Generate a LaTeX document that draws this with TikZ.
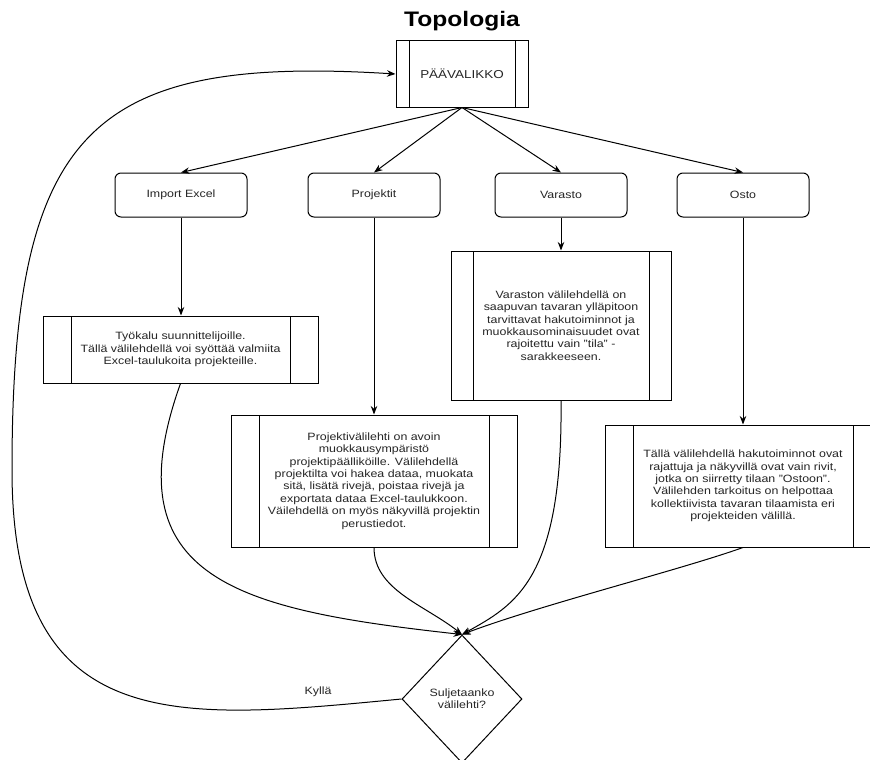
\documentclass[tikz,border=0pt]{standalone}
\usepackage{fontspec}
\setmainfont{Liberation Sans}[FakeStretch=1.17]
\usetikzlibrary{arrows.meta,shapes.geometric}
\tikzset{
  tab/.style={draw,rounded corners=6pt,minimum width=132pt,minimum height=44pt},
  proc/.style={draw,inner sep=0pt,align=center,path picture={
    \draw ([xshift=#1]path picture bounding box.north west)--([xshift=#1]path picture bounding box.south west)
      ([xshift=-#1]path picture bounding box.north east)--([xshift=-#1]path picture bounding box.south east);}},
  ask/.style={draw,diamond,aspect=0.94,minimum width=120pt,minimum height=128pt,inner sep=0pt,align=center}
}
\begin{document}
\begin{tikzpicture}[x=1pt,y=-1pt,line width=1pt,text=black!85,
  font=\fontsize{10.6}{12.4}\selectfont,>={Stealth[length=8.5pt,width=6.5pt]}]
\path[use as bounding box,fill=white] (0,0) rectangle (870,760);
\node[font=\fontsize{21}{24}\selectfont\bfseries,text=black] (title) at (462,21) {Topologia};
\node[proc=13pt,minimum width=132pt,minimum height=66pt,font=\fontsize{11.5}{13}\selectfont] (menu) at (462,74) {PÄÄVALIKKO};
\node[tab] (imp) at (181,195) {Import Excel};
\node[tab] (proj) at (374,195) {Projektit};
\node[tab] (var) at (561,195) {Varasto};
\node[tab] (osto) at (743,195) {Osto};
\node[proc=28pt,minimum width=275pt,minimum height=67pt] (imp-txt) at (180.5,349.5)
  {Työkalu suunnittelijoille.\\Tällä välilehdellä voi syöttää valmiita\\Excel-taulukoita projekteille.};
\node[proc=28pt,minimum width=286pt,minimum height=132pt] (proj-txt) at (374,481)
  {Projektivälilehti on avoin\\muokkausympäristö\\projektipäälliköille. Välilehdellä\\projektilta voi hakea dataa, muokata\\sitä, lisätä rivejä, poistaa rivejä ja\\exportata dataa Excel-taulukkoon.\\Väilehdellä on myös näkyvillä projektin\\perustiedot.};
\node[proc=22pt,minimum width=220pt,minimum height=149pt] (var-txt) at (561,325.5)
  {Varaston välilehdellä on\\saapuvan tavaran ylläpitoon\\tarvittavat hakutoiminnot ja\\muokkausominaisuudet ovat\\rajoitettu vain "tila" -\\sarakkeeseen.};
\node[proc=28pt,minimum width=276pt,minimum height=122pt] (osto-txt) at (743,486)
  {Tällä välilehdellä hakutoiminnot ovat\\rajattuja ja näkyvillä ovat vain rivit,\\jotka on siirretty tilaan "Ostoon".\\Välilehden tarkoitus on helpottaa\\kollektiivista tavaran tilaamista eri\\projekteiden välillä.};
\node[ask] (close) at (462,699) {Suljetaanko\\välilehti?};
\node (yes) at (318,692) {Kyllä};
\coordinate (turn) at (12,470);
\foreach \t in {imp,proj,var,osto}{
  \draw[->] (menu.south) -- (\t.north);
  \draw[->] (\t.south) -- (\t.south |- \t-txt.north);
}
\draw[->] (imp-txt.south) .. controls (110,580) and (240,610) .. (close.north);
\draw[->] (proj-txt.south) .. controls (374,590) and (425,605) .. (close.north);
\draw[->] (var-txt.south) .. controls (563,580) and (515,605) .. (close.north);
\draw[->] (osto-txt.south) .. controls (680,570) and (540,605) .. (close.north);
\draw[->] (close.west) .. controls (180,720) and (12,740) .. (turn)
  .. controls (12,130) and (90,55) .. (menu.west);
\end{tikzpicture}
\end{document}
